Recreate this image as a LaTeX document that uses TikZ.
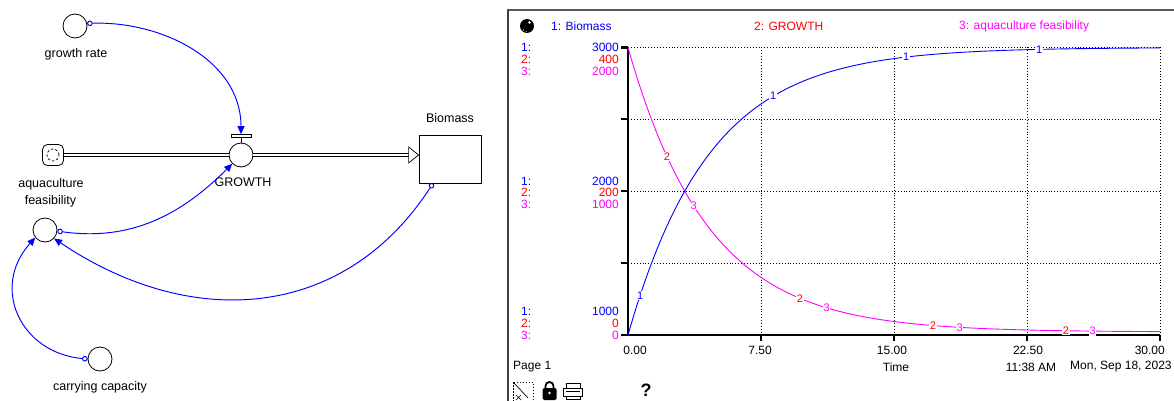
\documentclass[tikz,border=0pt]{standalone}
\usepackage{fontspec}
\setmainfont{Liberation Sans}
\usetikzlibrary{arrows.meta}
\definecolor{cblue}{RGB}{0,0,255}
\definecolor{cred}{RGB}{255,0,0}
\definecolor{cmag}{RGB}{255,0,255}
\definecolor{framegray}{RGB}{90,90,90}
\begin{document}
\begin{tikzpicture}[x=1pt,y=1pt,
  every node/.style={font=\fontsize{12.5}{14}\selectfont, inner sep=0pt},
  aux/.style={circle, draw=black, line width=0.8pt, minimum size=24pt, fill=white},
  stock/.style={rectangle, draw=black, line width=0.8pt, minimum width=62pt, minimum height=48pt, fill=white},
  conn/.style={draw=cblue, line width=0.95pt, {Circle[open,length=5.5pt,width=5.5pt]}-{Triangle[length=8pt,width=7pt]}},
  pipe/.style={draw=black, line width=0.7pt, double=white, double distance=2pt},
  glbl/.style={font=\fontsize{12}{13}\selectfont},
  clbl/.style={font=\fontsize{11}{12}\selectfont, fill=white, inner sep=0.6pt},
  grid/.style={draw=black, line width=0.8pt, dash pattern=on 0.9pt off 2pt},
  axis/.style={draw=black, line width=2.2pt}
]
\useasboundingbox (0,0) rectangle (1174,-401);

% ---------------- stock & flow diagram ----------------
\node[aux] (gr) at (75,-26) {};
\node (grl) at (76,-54) {growth rate};

\node[draw=black, line width=0.8pt, rounded corners=5pt, minimum size=21pt] (cloud) at (53,-155) {};
\draw[line width=0.7pt, dash pattern=on 2.5pt off 2pt] (cloud.center) circle (6);

\node[stock] (bio) at (450,-159) {};
\node (biol) at (450,-118) {Biomass};

\node[aux] (valve) at (241,-155) {};
\node[rectangle, draw=black, line width=0.7pt, fill=white, minimum width=20pt, minimum height=3pt] (vbar) at (241,-136) {};
\draw[line width=0.8pt] (vbar.south) -- (valve.north);
\node (valvel) at (243,-182) {GROWTH};

\coordinate (pipeend) at ([xshift=-10pt,yshift=4pt]bio.west);
\draw[pipe] (cloud.east) -- (valve.west);
\draw[pipe] (valve.east) -- (pipeend);
\draw[line width=0.7pt, fill=white] ([yshift=8pt]pipeend) -- ([xshift=10pt]pipeend) -- ([yshift=-8pt]pipeend) -- cycle;

\node[aux] (af) at (45,-230) {};
\node (afl1) at (51,-184) {aquaculture};
\node (afl2) at (50.5,-201) {feasibility};

\node[aux] (cc) at (100,-359) {};
\node (ccl) at (100,-387) {carrying capacity};

\draw[conn] (gr.12) to[out=2,in=90] (vbar.north);
\draw[conn] (af.-5) to[out=-8,in=225] (valve.225);
\draw[conn] ([xshift=-17pt]bio.south) to[out=237,in=-34,looseness=1.1] (af.-43);
\draw[conn] (cc.180) to[out=175,in=228,looseness=1.3] (af.218);

% ---------------- graph panel ----------------
\draw[framegray, line width=2pt] (507,-10) -- (1174,-10);
\draw[black!75, line width=1.2pt] (508,-10) -- (508,-401);

% ball icon
\fill[black] (527,-26) circle (7);
\fill[white] (529.5,-22.5) circle (1.3);
\fill[white] (523.5,-30) circle (0.6);
\fill[white] (526,-31.5) circle (0.5);

\node[glbl, anchor=west, text=cblue] (leg1) at (551,-26) {1: Biomass};
\node[glbl, anchor=west, text=cred] (leg2) at (754,-26) {2: GROWTH};
\node[glbl, anchor=west, text=cmag] (leg3) at (959,-26) {3: aquaculture feasibility};

% grid
\foreach \yy in {47.5,119.4,191.3,263.1} \draw[grid] (628,-\yy) -- (1160,-\yy);
\foreach \xx in {761,894,1027,1160} \draw[grid] (\xx,-47.5) -- (\xx,-335);

% axes
\draw[axis] (628,-47.5) -- (628,-335) -- (1160,-335);
\foreach \yy in {47.5,119.4,191.3,263.1,335} \draw[axis] (621,-\yy) -- (628,-\yy);
\foreach \xx in {761,894,1027,1160} \draw[axis] (\xx,-335) -- (\xx,-341);

% scale labels
\node[glbl, anchor=west, text=cblue] at (521,-47.5) {1:};
\node[glbl, anchor=west, text=cred]  at (521,-59.5) {2:};
\node[glbl, anchor=west, text=cmag]  at (521,-71.5) {3:};
\node[glbl, anchor=east, text=cblue] at (619,-47.5) {3000};
\node[glbl, anchor=east, text=cred]  at (619,-59.5) {400};
\node[glbl, anchor=east, text=cmag]  at (619,-71.5) {2000};

\node[glbl, anchor=west, text=cblue] at (521,-181) {1:};
\node[glbl, anchor=west, text=cred]  at (521,-192.5) {2:};
\node[glbl, anchor=west, text=cmag]  at (521,-204.5) {3:};
\node[glbl, anchor=east, text=cblue] at (619,-181) {2000};
\node[glbl, anchor=east, text=cred]  at (619,-192.5) {200};
\node[glbl, anchor=east, text=cmag]  at (619,-204.5) {1000};

\node[glbl, anchor=west, text=cblue] at (521,-311.5) {1:};
\node[glbl, anchor=west, text=cred]  at (521,-323) {2:};
\node[glbl, anchor=west, text=cmag]  at (521,-335) {3:};
\node[glbl, anchor=east, text=cblue] at (619,-311.5) {1000};
\node[glbl, anchor=east, text=cred]  at (619,-323) {0};
\node[glbl, anchor=east, text=cmag]  at (619,-335) {0};

% curves
\draw[cmag, line width=0.9pt] plot[domain=0:30, samples=150, smooth] ({628+17.7333*\x}, {-(332-284.5*exp(-0.22*\x))});
\draw[cblue, line width=0.9pt] plot[domain=0:30, samples=150, smooth] ({628+17.7333*\x}, {-(335-287.5*(1-exp(-0.217*\x)))});

% curve labels
\node[clbl, text=cblue] at (640.1,-295.6) {1};
\node[clbl, text=cblue] at (773.1,-96.2) {1};
\node[clbl, text=cblue] at (906.1,-57.1) {1};
\node[clbl, text=cblue] at (1039.1,-49.4) {1};
\node[clbl, text=cred] at (667.0,-156.7) {2};
\node[clbl, text=cred] at (800.0,-298.3) {2};
\node[clbl, text=cred] at (933.0,-325.5) {2};
\node[clbl, text=cred] at (1066.0,-330.8) {2};
\node[clbl, text=cmag] at (693.6,-206.0) {3};
\node[clbl, text=cmag] at (826.6,-307.8) {3};
\node[clbl, text=cmag] at (959.6,-327.4) {3};
\node[clbl, text=cmag] at (1092.6,-331.1) {3};

% time axis labels
\node[glbl] at (635,-350) {0.00};
\node[glbl] at (760,-350) {7.50};
\node[glbl] at (892,-350) {15.00};
\node[glbl] at (1028,-350) {22.50};
\node[glbl, anchor=east] at (1165,-350) {30.00};

\node[glbl, anchor=west] at (513,-367) {Page 1};
\node[glbl] at (896,-367) {Time};
\node[glbl] at (1031,-367) {11:38 AM};
\node[glbl, anchor=west] at (1070,-367) {Mon, Sep 18, 2023};

% bottom icons
\draw[line width=0.7pt, dash pattern=on 1.5pt off 1.5pt] (513,-382) rectangle (533,-402);
\draw[line width=0.7pt] (514,-383) -- (528,-398);
\draw[line width=0.6pt] (516,-395) -- (521,-400) (516,-400) -- (521,-395);
\draw[line width=1.8pt] (545.5,-389) -- (545.5,-386) arc (180:0:4) -- (553.5,-389);
\fill[black, rounded corners=1.5pt] (542.5,-388) rectangle (556.5,-400);
\fill[white] (549.5,-393) circle (1.3);
\draw[line width=0.8pt] (566,-388) -- (566,-383) -- (580,-383) -- (580,-388);
\draw[line width=0.8pt] (563.5,-388) rectangle (582.5,-396);
\draw[line width=0.8pt] (566,-396) -- (566,-399) -- (580,-399) -- (580,-396);
\draw[line width=0.6pt] (566,-391) -- (580,-391);
\node[font=\fontsize{18}{20}\selectfont\bfseries] at (646,-390) {?};
\end{tikzpicture}
\end{document}
